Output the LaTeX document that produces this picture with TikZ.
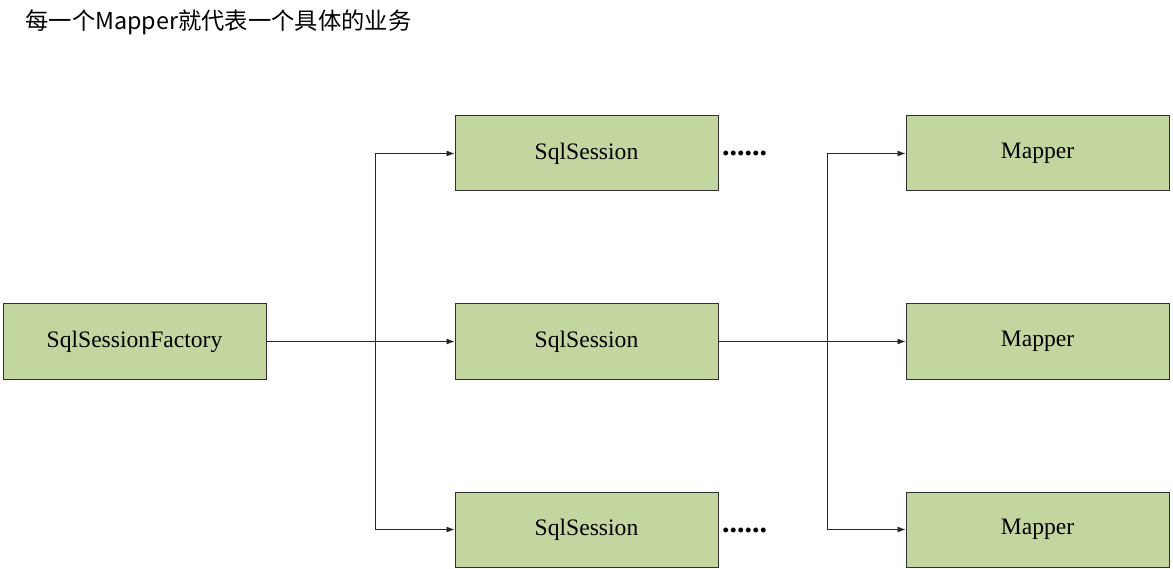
\documentclass[tikz,border=0pt]{standalone}
\usepackage{fontspec}
\setmainfont{Liberation Serif}
\newfontfamily\cjk{Noto Sans CJK SC}
\usetikzlibrary{arrows.meta}
\definecolor{boxgreen}{HTML}{C4D6A0}
\definecolor{boxline}{HTML}{303030}
\begin{document}
\begin{tikzpicture}[x=1pt,y=-1pt,
  blk/.style={draw=boxline,line width=1pt,fill=boxgreen,minimum width=263pt,minimum height=75pt,inner sep=0pt,font=\fontsize{23.6}{28}\selectfont},
  conn/.style={draw=black!85,line width=0.9pt},
  arr/.style={conn,-{Latex[length=8pt,width=6pt]}},
  dotsl/.style={font=\fontsize{30}{34}\selectfont\bfseries}]
\useasboundingbox (0,0) rectangle (1173,569);
\node[anchor=west,font=\cjk\fontsize{23.3}{27}\selectfont] (title) at (22,22) {每一个Mapper就代表一个具体的业务};
\node[blk] (f) at (134.5,341.5) {SqlSessionFactory};
\node[blk] (s1) at (586.5,153.5) {SqlSession};
\node[blk] (s2) at (586.5,341.5) {SqlSession};
\node[blk] (s3) at (586.5,529.5) {SqlSession};
\node[blk] (m1) at (1037.5,153.5) {Mapper};
\node[blk] (m2) at (1037.5,341.5) {Mapper};
\node[blk] (m3) at (1037.5,529.5) {Mapper};
\coordinate (j1) at (375,341.5);
\coordinate (j2) at (827,341.5);
\draw[conn] (f.east) -- (j1);
\draw[arr] (j1) |- (s1.west);
\draw[arr] (j1) -- (s2.west);
\draw[arr] (j1) |- (s3.west);
\draw[conn] (s2.east) -- (j2);
\draw[arr] (j2) |- (m1.west);
\draw[arr] (j2) -- (m2.west);
\draw[arr] (j2) |- (m3.west);
\node[dotsl,anchor=base west,inner sep=0pt] (d1) at (722,156) {......};
\node[dotsl,anchor=base west,inner sep=0pt] (d3) at (722,532) {......};
\end{tikzpicture}
\end{document}
